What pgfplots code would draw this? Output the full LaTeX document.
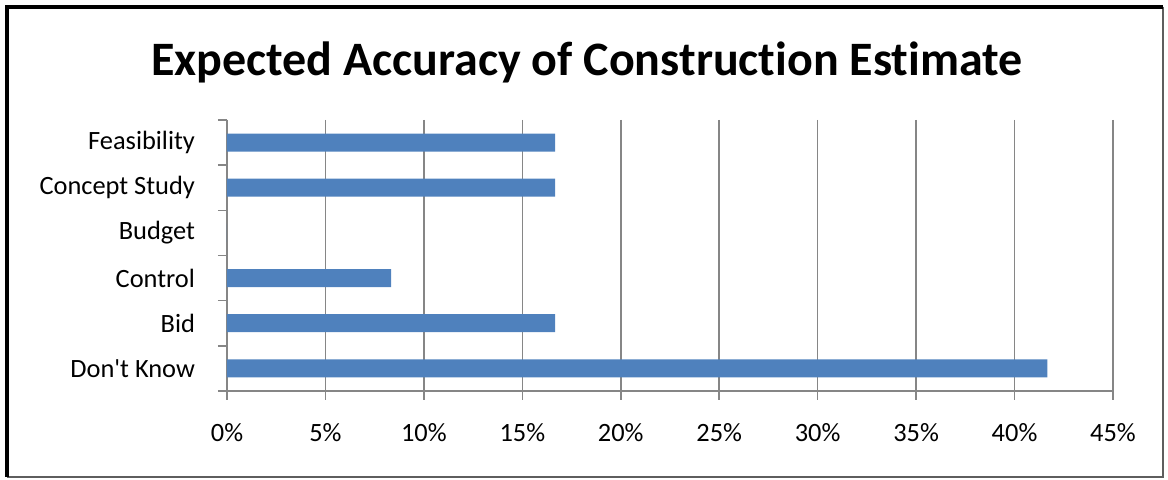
\documentclass[border=0pt]{standalone}
\usepackage{pgfplots}
\pgfplotsset{compat=1.18}
\usepackage{fontspec}
\setmainfont{Carlito}[Ligatures={NoCommon}]
\definecolor{barblue}{HTML}{4F81BD}
\definecolor{gridgray}{HTML}{868686}
\begin{document}
\begin{tikzpicture}
\path[use as bounding box] (0,0) rectangle (584pt,240pt);
\draw[gridgray!70!black, line width=1pt] (581.5pt,236.5pt) -- (581.5pt,1.5pt) -- (3.5pt,1.5pt);
\draw[black, line width=1.8pt] (3.5pt,1.5pt) -- (3.5pt,236.5pt) -- (581.5pt,236.5pt);
\node[font=\bfseries\fontsize{24}{29}\selectfont, anchor=base] at (293.5pt,202pt) {Expected Accuracy of Construction Estimate};
\begin{axis}[
  at={(113.5pt,44.5pt)}, anchor=south west,
  scale only axis, width=443pt, height=135.5pt,
  xbar, bar width=9pt,
  xmin=0, xmax=45, ymin=-0.5, ymax=5.5,
  y dir=reverse,
  axis x line=bottom, axis y line=left,
  axis line style={gridgray, line width=0.75pt, -},
  xtick={0,5,...,45},
  xticklabels={0\%,5\%,10\%,15\%,20\%,25\%,30\%,35\%,40\%,45\%},
  ytick={0,...,5},
  yticklabels={Feasibility,Concept Study,Budget,Control,Bid,Don\textquotesingle t Know},
  minor ytick={-0.5,0.5,...,5.5},
  xmajorgrids, grid style={gridgray, line width=0.75pt},
  tick align=outside,
  major x tick style={gridgray, line width=0.75pt},
  major y tick style={draw=none},
  minor y tick style={gridgray, line width=0.75pt},
  major tick length=4.5pt, minor tick length=4.5pt,
  tick label style={font=\fontsize{13.2}{15}\selectfont},
  xticklabel style={anchor=base, yshift=-21pt},
  yticklabel style={anchor=east, xshift=-8pt},
  clip=false,
]
\addplot[fill=barblue, draw=none] coordinates {
  (16.67,0) (16.67,1) (0,2) (8.33,3) (16.67,4) (41.67,5)
};
\end{axis}
\end{tikzpicture}
\end{document}
